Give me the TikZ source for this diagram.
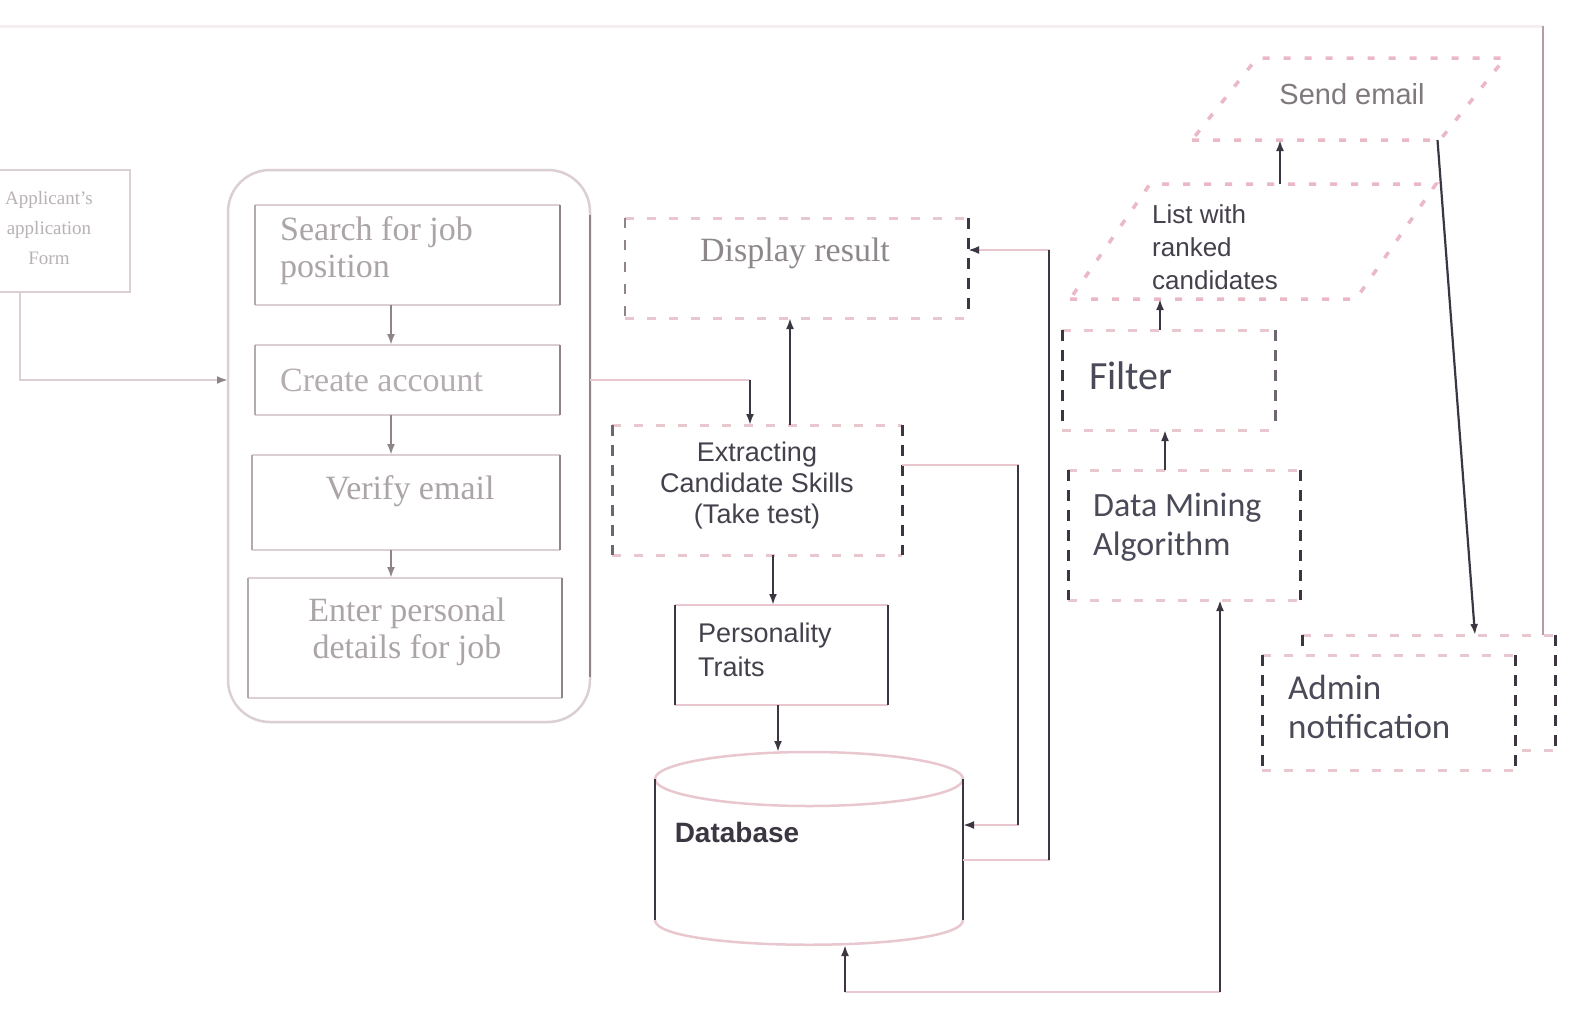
\documentclass[tikz,border=0pt]{standalone}
\usepackage{fontspec}
\setmainfont{Liberation Serif}
\newfontfamily\arialf{Liberation Sans}
\newfontfamily\calif{Carlito}
\usetikzlibrary{arrows.meta,calc}

\definecolor{ink}{HTML}{3B3642}
\definecolor{inkmid}{HTML}{6E6670}
\definecolor{pinkline}{HTML}{E8C7CF}
\definecolor{pinkdot}{HTML}{EBB9C6}
\definecolor{paleline}{HTML}{DCCFD4}
\definecolor{greyside}{HTML}{B3AAAF}
\definecolor{greydark}{HTML}{8E8489}
\definecolor{paletext}{HTML}{ABA4A8}
\definecolor{midtext}{HTML}{8D878B}
\definecolor{darktext}{HTML}{45414C}
\definecolor{bluetext}{HTML}{4A4A58}
\definecolor{faintline}{HTML}{F6EDF0}
\definecolor{rightline}{HTML}{B89CA3}

% top and bottom edges in one style, left and right edges in their own
\newcommand\edgebox[4]{%
  \draw[#2] (#1.north west) -- (#1.north east) (#1.south west) -- (#1.south east);
  \draw[#3] (#1.north west) -- (#1.south west);
  \draw[#4] (#1.north east) -- (#1.south east);}

\begin{document}
\begin{tikzpicture}[x=1pt,y=-1pt,
  frame/.style 2 args={minimum width=#1, minimum height=#2, inner sep=0pt, outer sep=0pt},
  txtserif/.style={font=\fontsize{34}{37}\selectfont, text=paletext, inner sep=0pt},
  txtsans/.style={font=\arialf\fontsize{27}{31}\selectfont, text=darktext, inner sep=0pt},
  txtcal/.style={font=\calif\fontsize{34}{39}\selectfont, text=bluetext, inner sep=0pt},
  pinkedge/.style={draw=pinkline, line width=2.5pt},
  paleedge/.style={draw=paleline, line width=2.5pt},
  greyedge/.style={draw=greyside, line width=2.2pt},
  greyedgedark/.style={draw=greydark, line width=2.2pt},
  inkedge/.style={draw=ink, line width=2.2pt},
  hdash/.style={draw=pinkline, line width=3pt, dash pattern=on 9pt off 13pt},
  vdash/.style={draw=ink, line width=3pt, dash pattern=on 11pt off 9pt},
  vdashmid/.style={draw=inkmid, line width=3pt, dash pattern=on 11pt off 9pt},
  vdashpale/.style={draw=greydark, line width=2.5pt, dash pattern=on 10pt off 12pt},
  pdots/.style={draw=pinkdot, line width=3.5pt, dash pattern=on 7pt off 14pt},
  tip/.style={-{Latex[length=11pt,width=8pt,color=#1]}},
  vconn/.style={draw=ink, line width=2.2pt, tip=ink},
  vgrey/.style={draw=greydark, line width=2pt, tip=greydark},
  vseg/.style={draw=ink, line width=2.2pt},
  hconn/.style={draw=pinkline, line width=2.5pt},
]
\useasboundingbox (0,0) rectangle (1580,1012);
\fill[white] (0,0) rectangle (1580,1012);

% ---------- applicant form (runs off the left edge) ----------
\node[frame={150}{122}] (form) at (55,231) {};
\draw[paleedge] (form.north west) rectangle (form.south east);
\node[txtserif, font=\fontsize{19}{30}\selectfont, text=paletext!85, align=center] (form-t) at (49,228)
  {Applicant's\\application\\Form};

% ---------- registration group ----------
\node[frame={362}{552}] (grp) at (409,446) {};
\draw[paleedge, rounded corners=42pt] (grp.north west) rectangle (grp.south east);
\draw[greyedgedark] ([yshift=-45pt]grp.north east) -- ([yshift=45pt]grp.south east);

\node[frame={305}{100}] (s1) at (407.5,255) {};
\node[frame={305}{70}]  (s2) at (407.5,380) {};
\node[frame={308}{95}]  (s3) at (406,502.5) {};
\node[frame={314}{120}] (s4) at (405,638) {};
\edgebox{s1}{paleedge}{greyedge}{greyedgedark}
\edgebox{s2}{paleedge}{greyedge}{greyedgedark}
\edgebox{s3}{paleedge}{greyedge}{greyedgedark}
\edgebox{s4}{paleedge}{greyedge}{greyedgedark}

\node[txtserif, anchor=west, align=left] (s1-t) at (280,251) {Search for job\\position};
\node[txtserif, anchor=west, text=paletext!90] (s2-t) at (280,380) {Create account};
\node[txtserif] (s3-t) at (410,491) {Verify email};
\node[txtserif, align=center] (s4-t) at (407,632) {Enter personal\\details for job};

\coordinate (cA) at (391,0);
\draw[vgrey] (s1.south -| cA) -- (s2.north -| cA);
\draw[vgrey] (s2.south -| cA) -- (s3.north -| cA);
\draw[vgrey] (s3.south -| cA) -- (s4.north -| cA);

% form -> group
\coordinate (form-out) at ([xshift=40pt]form.south west);
\draw[paleedge, tip=greydark] (form-out) |- (grp.west |- s2.center);

% ---------- test and results ----------
\node[frame={343}{100}] (disp) at (796.5,268) {};
\edgebox{disp}{hdash}{vdashpale}{vdash}
\node[txtserif, text=midtext] (disp-t) at (795,253) {Display result};

\node[frame={290}{130}] (ext) at (757,490) {};
\edgebox{ext}{hdash}{vdashmid}{vdash}
\node[txtsans, align=center] (ext-t) at (757,486) {Extracting\\Candidate Skills\\(Take test)};

\node[frame={213}{100}] (pers) at (781.5,655) {};
\edgebox{pers}{pinkedge}{inkedge}{inkedge}
\node[txtsans, anchor=west, align=left, font=\arialf\fontsize{27}{34}\selectfont] (pers-t) at (698,650) {Personality\\Traits};

% database cylinder
\node[frame={308}{193}] (db) at (809,848.5) {};
\draw[pinkedge] ($(db.north)+(0,27)$) ellipse [x radius=154, y radius=27];
\draw[pinkedge] ($(db.south west)+(0,-25)$) .. controls ($(db.south west)+(0,8)$) and ($(db.south east)+(0,8)$) .. ($(db.south east)+(0,-25)$);
\draw[inkedge] ($(db.north west)+(0,27)$) -- ($(db.south west)+(0,-25)$);
\draw[inkedge] ($(db.north east)+(0,27)$) -- ($(db.south east)+(0,-25)$);
\node[txtsans, font=\arialf\bfseries\fontsize{28}{30}\selectfont, text=ink] (db-t) at (737,832) {Database};

% connectors of the middle column
\coordinate (c750) at (750,0);
\coordinate (c773) at (773,0);
\coordinate (c778) at (778,0);
\coordinate (c790) at (790,0);
\draw[hconn] (grp.east |- s2.center) -- (c750 |- s2.center);
\draw[vconn] (c750 |- s2.center) -- (ext.north -| c750);
\draw[vconn] (ext.north -| c790) -- (disp.south -| c790);
\draw[vconn] (ext.south -| c773) -- (pers.north -| c773);
\draw[vconn] (pers.south -| c778) -- (db.north -| c778);

% extracting -> database
\coordinate (ext-out) at ([yshift=25pt]ext.east);
\coordinate (db-in) at ([yshift=23.5pt]db.east);
\coordinate (j1) at (1018,650);
\draw[hconn, tip=ink] (ext-out) -| (j1) |- (db-in);
\draw[vseg] (j1 |- ext-out) -- (j1 |- db-in);

% database -> display result
\coordinate (db-out) at ([yshift=-11.5pt]db.east);
\coordinate (disp-in) at ([yshift=18pt]disp.east);
\coordinate (j2) at (1049,550);
\draw[hconn, tip=ink] (db-out) -| (j2) |- (disp-in);
\draw[vseg] (j2 |- db-out) -- (j2 |- disp-in);

% ---------- mining side ----------
\node[frame={232}{130}] (dm) at (1184,535) {};
\edgebox{dm}{hdash}{vdash}{vdash}
\node[txtcal, anchor=west, align=left] (dm-t) at (1093,527) {Data Mining\\Algorithm};

\node[frame={213}{100}] (filt) at (1168.5,380) {};
\edgebox{filt}{hdash}{vdash}{vdashmid}
\node[txtcal, anchor=west, font=\calif\fontsize{40}{44}\selectfont] (filt-t) at (1089,376) {Filter};

\node[frame={286}{115}] (list) at (1253,241.5) {};
\draw[pdots] ([xshift=-40pt]list.south west) -- ([xshift=-40pt]list.south east)
  -- ([xshift=40pt]list.north east) -- ([xshift=40pt]list.north west) -- cycle;
\node[txtsans, anchor=west, align=left, font=\arialf\fontsize{26}{33}\selectfont] (list-t) at (1152,247) {List with\\ranked\\candidates};

\node[frame={248}{82}] (send) at (1348.5,99) {};
\draw[pdots] ([xshift=-32.5pt]send.south west) -- ([xshift=-32.5pt]send.south east)
  -- ([xshift=32.5pt]send.north east) -- ([xshift=32.5pt]send.north west) -- cycle;
\node[txtsans, font=\arialf\fontsize{29}{32}\selectfont, text=midtext!90!black] (send-t) at (1352,94) {Send email};

% admin notification, stacked pair
\node[frame={253}{115}] (admb) at (1428.5,692.5) {};
\node[frame={253}{115}] (adm) at (1388.5,712.5) {};
\edgebox{admb}{hdash}{vdash}{vdash}
\fill[white] (adm.north west) rectangle (adm.south east);
\edgebox{adm}{hdash}{vdash}{vdash}
\node[txtcal, anchor=west, align=left, font=\calif\fontsize{35}{39}\selectfont] (adm-t) at (1288,707) {Admin\\notification};

% mining connectors
\coordinate (c1160) at (1160,0);
\coordinate (c1165) at (1165,0);
\coordinate (c1280) at (1280,0);
\draw[vconn] (dm.north -| c1165) -- (filt.south -| c1165);
\draw[vconn] (filt.north -| c1160) -- (list.south -| c1160);
\draw[vconn] (list.north -| c1280) -- (send.south -| c1280);
\draw[vconn] ([xshift=-35pt]send.south east) -- ([xshift=46.5pt]admb.north);

% mining <-> database
\coordinate (dm-b) at ([xshift=36pt]dm.south);
\coordinate (db-b) at ([xshift=36pt]db.south);
\coordinate (j3) at (1222,992);
\draw[hconn] (dm-b |- j3) -- (db-b |- j3);
\draw[vconn] (db-b |- j3) -- (db-b);
\draw[vconn] (dm-b |- j3) -- (dm-b);

% long return line along the top and right border
\coordinate (top-in) at (0,26);
\coordinate (adm-top) at ([xshift=-12pt]admb.north east);
\draw[draw=faintline, line width=3pt] (top-in) -- (top-in -| adm-top);
\draw[draw=rightline, line width=2.2pt] (top-in -| adm-top) -- (adm-top);
\end{tikzpicture}
\end{document}
